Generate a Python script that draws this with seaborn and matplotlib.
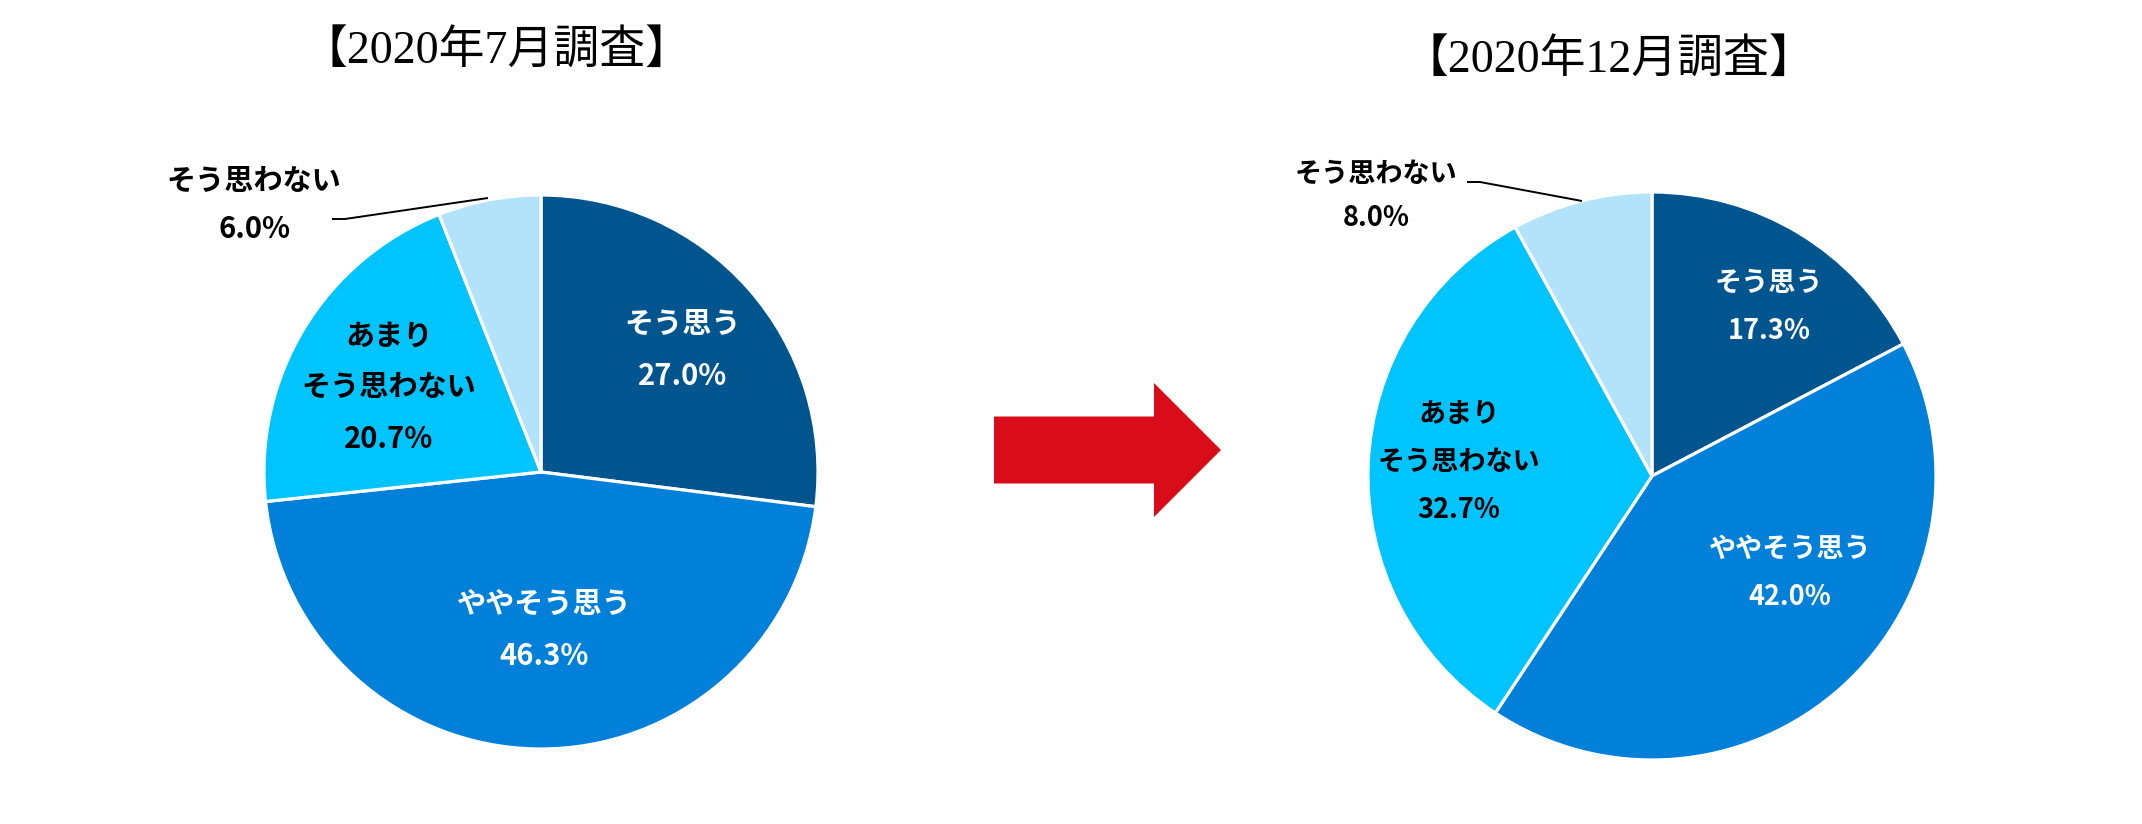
import matplotlib
matplotlib.use("Agg")
import matplotlib.pyplot as plt
from matplotlib.patches import FancyArrow
import seaborn as sns

# ---- data ----
categories = ["そう思う", "ややそう思う", "あまり\nそう思わない", "そう思わない"]
july_values = [27.0, 46.3, 20.7, 6.0]
dec_values = [17.3, 42.0, 32.7, 8.0]
titles = ["【2020年7月調査】", "【2020年12月調査】"]

colors = ["#00558f", "#0080d9", "#00c4fd", "#b3e2fb"]
label_colors = ["white", "white", "black", "black"]

sns.set_theme(style="white")
plt.rcParams['font.family'] = ['Noto Sans CJK JP', 'DejaVu Sans']

W, H = 2142, 824
fig = plt.figure(figsize=(W / 100, H / 100), dpi=100)
ax = fig.add_axes([0, 0, 1, 1])


def Y(y):
    return H - y


pies = [
    dict(values=july_values, center=(541, 472), radius=277, title=titles[0],
         title_pos=(497, 52), fs=21,
         label_pos=[(683, 350), (544, 630), (389, 387), (254, 205)],
         leader=[(332, 219), (345, 219), (488, 198)]),
    dict(values=dec_values, center=(1652, 476), radius=284, title=titles[1],
         title_pos=(1609, 61), fs=19.5,
         label_pos=[(1769, 307), (1790, 573), (1459, 462), (1376, 196)],
         leader=[(1467, 182), (1480, 182), (1582, 201)]),
]

for p in pies:
    cx, cy = p["center"]
    ax.pie(p["values"], colors=colors, startangle=90, counterclock=False,
           center=(cx, Y(cy)), radius=p["radius"],
           wedgeprops=dict(edgecolor="white", linewidth=2.3))
    for i, (cat, val) in enumerate(zip(categories, p["values"])):
        lx, ly = p["label_pos"][i]
        ax.text(lx, Y(ly), f"{cat}\n{val:.1f}%", ha="center", va="center",
                fontsize=p["fs"], fontweight="bold", color=label_colors[i],
                linespacing=1.9 if i != 3 else 1.75)
    xs = [pt[0] for pt in p["leader"]]
    ys = [Y(pt[1]) for pt in p["leader"]]
    ax.plot(xs, ys, color="black", linewidth=1.4, solid_capstyle="butt")
    tx, ty = p["title_pos"]
    ax.text(tx, Y(ty), p["title"], ha="center", va="center", fontsize=33,
            color="black", family=["Liberation Serif", "Noto Sans CJK JP"])

# arrow between the two pies
ax.add_patch(FancyArrow(994, Y(450), 227, 0, width=67, head_width=134,
                        head_length=67, length_includes_head=True,
                        color="#d90d19", linewidth=0))

ax.set_xlim(0, W)
ax.set_ylim(0, H)
ax.set_aspect("equal")
ax.axis("off")

fig.savefig("out.png", dpi=100, facecolor="white")
